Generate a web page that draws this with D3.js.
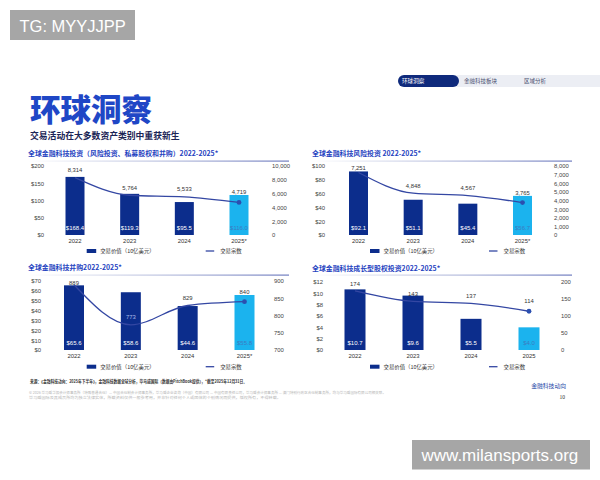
<!DOCTYPE html>
<html><head><meta charset="utf-8">
<script src="https://cdn.jsdelivr.net/npm/d3@7"></script>
<style>
html,body{margin:0;padding:0;background:#fff;}
svg{display:block;font-family:"Noto Sans CJK SC","Noto Sans",sans-serif;}
</style></head>
<body><div id="chart"></div>
<script>
// ---------- data ----------
const yearsStar = ["2022","2023","2024","2025*"];
const yearsPlain = ["2022","2023","2024","2025"];

const c1Title = "全球金融科技投资（风险投资、私募股权和并购）2022-2025*";
const c1Values = [168.4, 119.3, 95.5, 116.0];
const c1Deals = [8314, 5764, 5533, 4719];
const c1LeftTicks = [0, 50, 100, 150, 200];
const c1RightTicks = [0, 2000, 4000, 6000, 8000, 10000];

const c2Title = "全球金融科技风险投资 2022-2025*";
const c2Values = [92.1, 51.1, 45.4, 56.7];
const c2Deals = [7251, 4848, 4567, 3765];
const c2LeftTicks = [0, 20, 40, 60, 80, 100];
const c2RightTicks = [0, 1000, 2000, 3000, 4000, 5000, 6000, 7000, 8000];

const c3Title = "全球金融科技并购2022-2025*";
const c3Values = [65.6, 58.6, 44.6, 55.8];
const c3Deals = [889, 773, 829, 840];
const c3LeftTicks = [0, 10, 20, 30, 40, 50, 60, 70];
const c3RightTicks = [700, 750, 800, 850, 900];

const c4Title = "全球金融科技成长型股权投资2022-2025*";
const c4Values = [10.7, 9.6, 5.5, 4.0];
const c4Deals = [174, 143, 137, 114];
const c4LeftTicks = [0, 2, 4, 6, 8, 10, 12];
const c4RightTicks = [0, 50, 100, 150, 200];

const legendLabels = ["交易价值（10亿美元）", "交易宗数"];

// ---------- styles ----------
const DARK = "#0c2d8c", LIGHT = "#1bb3ee", LINE = "#3447a3", TITLE = "#1f43bf";

const svg = d3.select("#chart").append("svg").attr("width", 600).attr("height", 480);

const defs = svg.append("defs");
const grad = defs.append("linearGradient").attr("id", "rule").attr("x1", "0%").attr("x2", "100%");
grad.append("stop").attr("offset", "0%").attr("stop-color", "#8a95c8").attr("stop-opacity", 0);
grad.append("stop").attr("offset", "45%").attr("stop-color", "#8a95c8").attr("stop-opacity", 0.5);
grad.append("stop").attr("offset", "100%").attr("stop-color", "#6f7cbf").attr("stop-opacity", 1);

// header
svg.append("text").attr("x", 30).attr("y", 108).attr("dominant-baseline", "central")
  .attr("font-size", 30.5).attr("font-weight", 900).attr("fill", "#1f47c6").text("环球洞察");
svg.append("text").attr("x", 30).attr("y", 135).attr("dominant-baseline", "central")
  .attr("font-size", 8.8).attr("font-weight", 700).attr("fill", "#1b2556").text("交易活动在大多数资产类别中重获新生");

// tabs
svg.append("rect").attr("x", 440).attr("y", 75).attr("width", 170).attr("height", 12).attr("rx", 6).attr("fill", "#eceef4");
svg.append("rect").attr("x", 398).attr("y", 75).attr("width", 61).attr("height", 12).attr("rx", 6).attr("fill", "#0f2a7c");
svg.append("text").attr("x", 402).attr("y", 81).attr("dominant-baseline", "central").attr("font-size", 5.6).attr("fill", "#fff").text("环球洞察");
svg.append("text").attr("x", 464).attr("y", 81).attr("dominant-baseline", "central").attr("font-size", 5.5).attr("fill", "#4a5070").text("金融科技板块");
svg.append("text").attr("x", 524).attr("y", 81).attr("dominant-baseline", "central").attr("font-size", 5.5).attr("fill", "#4a5070").text("区域分析");

function drawChart(cfg) {
  const g = svg.append("g");
  const x = d3.scalePoint().domain(cfg.years).range(cfg.xRange);
  const yL = d3.scaleLinear().domain(cfg.leftDomain).range([cfg.bottom, cfg.top]);
  const yR = d3.scaleLinear().domain(cfg.rightDomain).range([cfg.bottom, cfg.top]);
  const bw = cfg.barW;

  // title + rule
  g.append("text").attr("x", cfg.titleX).attr("y", cfg.titleY).attr("dominant-baseline", "central")
    .attr("font-size", 6.9).attr("font-weight", 700).attr("fill", TITLE).text(cfg.title);
  g.append("rect").attr("x", cfg.titleX).attr("y", cfg.ruleY).attr("width", cfg.ruleEnd - cfg.titleX).attr("height", 1.2)
    .attr("fill", "url(#rule)");

  // axes
  const fmtL = d => "$" + d;
  const aL = g.append("g").attr("transform", `translate(${cfg.leftX},0)`)
    .call(d3.axisLeft(yL).tickValues(cfg.leftTicks).tickFormat(fmtL).tickSize(0).tickPadding(0));
  const aR = g.append("g").attr("transform", `translate(${cfg.rightX},0)`)
    .call(d3.axisRight(yR).tickValues(cfg.rightTicks).tickFormat(d3.format(",")).tickSize(0).tickPadding(0));
  [aL, aR].forEach(a => {
    a.select(".domain").remove();
    a.selectAll("text").attr("font-size", 5.9).attr("fill", "#444").attr("font-family", "'Liberation Sans','Noto Sans',sans-serif");
  });

  // bars
  const n = cfg.years.length;
  g.selectAll("rect.bar").data(cfg.values).join("rect").attr("class", "bar")
    .attr("x", (d, i) => x(cfg.years[i]) - bw / 2)
    .attr("y", d => yL(d))
    .attr("width", bw)
    .attr("height", d => yL(0) - yL(d))
    .attr("fill", (d, i) => i === n - 1 ? LIGHT : DARK);

  g.selectAll("text.bv").data(cfg.values).join("text").attr("class", "bv")
    .attr("x", (d, i) => x(cfg.years[i]))
    .attr("y", cfg.bottom - 7.3)
    .attr("text-anchor", "middle").attr("dominant-baseline", "central")
    .attr("font-size", 6).attr("font-family", "'Liberation Sans','Noto Sans',sans-serif")
    .attr("fill", (d, i) => i === n - 1 ? "#3d7bc2" : "#fff")
    .text(d => "$" + d.toFixed(1));

  // year labels
  g.selectAll("text.yr").data(cfg.years).join("text").attr("class", "yr")
    .attr("x", d => x(d)).attr("y", cfg.yearY)
    .attr("text-anchor", "middle").attr("dominant-baseline", "central")
    .attr("font-size", 5.9).attr("fill", "#333").attr("font-family", "'Liberation Sans','Noto Sans',sans-serif")
    .text(d => d);

  // line
  const line = d3.line().x((d, i) => x(cfg.years[i])).y(d => yR(d)).curve(d3.curveMonotoneX);
  g.append("path").datum(cfg.deals).attr("d", line).attr("fill", "none").attr("stroke", LINE).attr("stroke-width", 1.3);
  g.append("circle").attr("cx", x(cfg.years[n - 1])).attr("cy", yR(cfg.deals[n - 1])).attr("r", 2.4).attr("fill", "#2b4fb0");

  // deal labels
  g.selectAll("text.dl").data(cfg.deals).join("text").attr("class", "dl")
    .each(function (d, i) {
      const py = yR(d);
      let ly = i === n - 1 ? py - 10 : Math.max(cfg.top + 2, py - 7.5);
      const inside = ly > yL(cfg.values[i]) + 3;
      d3.select(this).attr("x", x(cfg.years[i])).attr("y", ly)
        .attr("fill", inside ? "#a9bce6" : "#333");
    })
    .attr("text-anchor", "middle").attr("dominant-baseline", "central")
    .attr("font-size", 5.9).attr("font-family", "'Liberation Sans','Noto Sans',sans-serif")
    .text(d => d3.format(",")(d));

  // legend
  const lg = g.append("g");
  lg.append("rect").attr("x", cfg.legX).attr("y", cfg.legY - 2).attr("width", 9.5).attr("height", 4).attr("fill", DARK);
  lg.append("text").attr("x", cfg.legX + 13.5).attr("y", cfg.legY).attr("dominant-baseline", "central")
    .attr("font-size", 5.4).attr("fill", "#333").text(legendLabels[0]);
  lg.append("line").attr("x1", cfg.legX + 119).attr("x2", cfg.legX + 127.5).attr("y1", cfg.legY).attr("y2", cfg.legY)
    .attr("stroke", LINE).attr("stroke-width", 1.3);
  lg.append("text").attr("x", cfg.legX + 133.5).attr("y", cfg.legY).attr("dominant-baseline", "central")
    .attr("font-size", 5.4).attr("fill", "#333").text(legendLabels[1]);
}

drawChart({title: c1Title, years: yearsStar, values: c1Values, deals: c1Deals,
  leftTicks: c1LeftTicks, rightTicks: c1RightTicks, leftDomain: [0, 200], rightDomain: [0, 10000],
  top: 166, bottom: 235, xRange: [75, 239], barW: 19, leftX: 44, rightX: 272,
  titleX: 28, titleY: 153, ruleY: 160.5, ruleEnd: 289, yearY: 241, legX: 86.7, legY: 251});

drawChart({title: c2Title, years: yearsStar, values: c2Values, deals: c2Deals,
  leftTicks: c2LeftTicks, rightTicks: c2RightTicks, leftDomain: [0, 100], rightDomain: [0, 8000],
  top: 166, bottom: 235, xRange: [358.5, 522.5], barW: 19, leftX: 325, rightX: 554,
  titleX: 312, titleY: 153, ruleY: 160.5, ruleEnd: 572, yearY: 241, legX: 370, legY: 251});

drawChart({title: c3Title, years: yearsStar, values: c3Values, deals: c3Deals,
  leftTicks: c3LeftTicks, rightTicks: c3RightTicks, leftDomain: [0, 70], rightDomain: [700, 900],
  top: 281, bottom: 350, xRange: [74, 244.5], barW: 20, leftX: 41, rightX: 274,
  titleX: 28, titleY: 267, ruleY: 274.5, ruleEnd: 289, yearY: 356, legX: 86.7, legY: 366.7});

drawChart({title: c4Title, years: yearsPlain, values: c4Values, deals: c4Deals,
  leftTicks: c4LeftTicks, rightTicks: c4RightTicks, leftDomain: [0, 12], rightDomain: [0, 200],
  top: 282, bottom: 350, xRange: [355, 529], barW: 21, leftX: 323, rightX: 561,
  titleX: 312, titleY: 267.5, ruleY: 274.5, ruleEnd: 572, yearY: 356, legX: 370, legY: 366.7});

// footer
svg.append("text").attr("x", 30).attr("y", 381).attr("dominant-baseline", "central")
  .attr("font-size", 4.2).attr("font-weight", 700).attr("fill", "#333").attr("textLength", 217).attr("lengthAdjust", "spacingAndGlyphs")
  .text("来源：《金融科技动向：2025年下半年》，金融科技数据全球分析，毕马威国际（数据由PitchBook提供），*截至2025年12月31日。");
svg.append("text").attr("x", 29).attr("y", 392.7).attr("dominant-baseline", "central")
  .attr("font-size", 3.5).attr("fill", "#b5b5b5").attr("textLength", 357).attr("lengthAdjust", "spacingAndGlyphs")
  .text("© 2026 毕马威华振会计师事务所（特殊普通合伙）— 中国合伙制会计师事务所，毕马威企业咨询（中国）有限公司 — 中国有限责任公司，毕马威会计师事务所 — 澳门特别行政区合伙制事务所，均与毕马威国际有限公司相关联。");
svg.append("text").attr("x", 29).attr("y", 397.3).attr("dominant-baseline", "central")
  .attr("font-size", 3.5).attr("fill", "#b5b5b5").attr("textLength", 252).attr("lengthAdjust", "spacingAndGlyphs")
  .text("毕马威国际及其成员所均为独立法律实体，所载资料仅供一般参考用，并非针对任何个人或团体的个别情况而提供，版权所有，不得转载。");
svg.append("text").attr("x", 566).attr("y", 385.7).attr("text-anchor", "end").attr("dominant-baseline", "central")
  .attr("font-size", 5.8).attr("fill", "#2a4aa8").text("金融科技动向");
svg.append("text").attr("x", 565).attr("y", 396.7).attr("text-anchor", "end").attr("dominant-baseline", "central")
  .attr("font-size", 5.6).attr("fill", "#333").attr("font-family", "'Liberation Serif',serif").text("10");

// watermarks
svg.append("rect").attr("x", 10).attr("y", 10).attr("width", 125).attr("height", 30).attr("fill", "#a6a6a6");
svg.append("text").attr("x", 19.5).attr("y", 25.5).attr("dominant-baseline", "central")
  .attr("font-size", 16.5).attr("fill", "#fff").attr("font-family", "'Liberation Sans',sans-serif").text("TG: MYYJJPP");
svg.append("rect").attr("x", 412).attr("y", 440).attr("width", 178).attr("height", 29.5).attr("fill", "#a6a6a6");
svg.append("text").attr("x", 421.5).attr("y", 455).attr("dominant-baseline", "central")
  .attr("font-size", 17).attr("fill", "#fff").attr("font-family", "'Liberation Sans',sans-serif").text("www.milansports.org");
</script></body></html>
